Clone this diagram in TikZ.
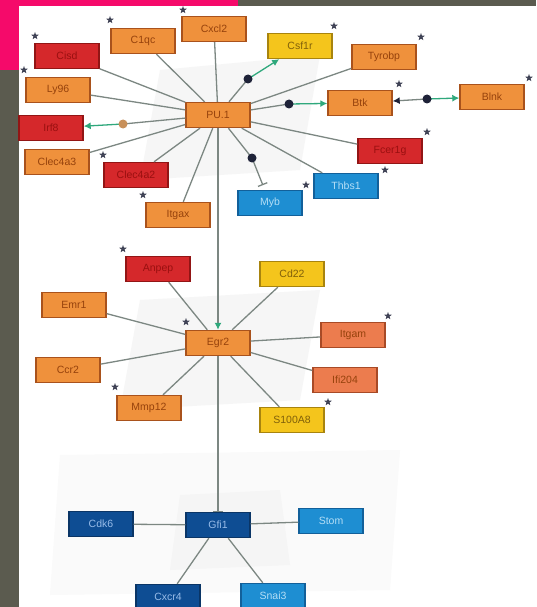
\documentclass[tikz,border=0pt]{standalone}
\usepackage{fontspec}
\setmainfont{Liberation Sans}
\usetikzlibrary{shapes.geometric,arrows.meta}
\definecolor{bgc}{HTML}{5B5B4F}
\definecolor{pinkc}{HTML}{F50A6A}
\definecolor{orf}{HTML}{EF913C}
\definecolor{ord}{HTML}{A9521C}
\definecolor{ort}{HTML}{96420C}
\definecolor{rdf}{HTML}{D5282B}
\definecolor{rdd}{HTML}{921515}
\definecolor{rdt}{HTML}{9A1010}
\definecolor{ylf}{HTML}{F4C51C}
\definecolor{yld}{HTML}{A8840E}
\definecolor{ylt}{HTML}{80600A}
\definecolor{sal}{HTML}{EC7C4E}
\definecolor{sald}{HTML}{A84A26}
\definecolor{lbf}{HTML}{1E8ED2}
\definecolor{lbd}{HTML}{12609A}
\definecolor{lbt}{HTML}{B4DEF6}
\definecolor{dbf}{HTML}{0E4D93}
\definecolor{dbd}{HTML}{0A3566}
\definecolor{dbt}{HTML}{98BCE8}
\definecolor{linkc}{HTML}{7C8782}
\definecolor{grn}{HTML}{2FA87C}
\definecolor{dotd}{HTML}{1E2238}
\definecolor{dott}{HTML}{C8905A}
\tikzset{
  gbox/.style={rectangle, minimum width=64pt, minimum height=25pt, inner sep=0pt, line width=1.4pt, font=\fontsize{10.5}{11}\selectfont},
  orb/.style={gbox, fill=orf, draw=ord, text=ort},
  rdb/.style={gbox, fill=rdf, draw=rdd, text=rdt},
  ylb/.style={gbox, fill=ylf, draw=yld, text=ylt},
  slb/.style={gbox, fill=sal, draw=sald, text=ort},
  lbb/.style={gbox, fill=lbf, draw=lbd, text=lbt},
  dbb/.style={gbox, fill=dbf, draw=dbd, text=dbt},
  link/.style={draw=linkc, line width=1.3pt},
  garrow/.style={draw=grn, line width=1.3pt, -{Latex[length=7pt,width=7pt]}},
  gtip/.style={draw=linkc, line width=1.3pt, -{Latex[length=7pt,width=7pt,color=grn]}},
  darrow/.style={draw=linkc, line width=1.3pt, -{Latex[length=7pt,width=7pt,color=dotd]}},
  tbar/.style={draw=linkc, line width=1.3pt, -{Bar[width=10pt,line width=1.3pt]}},
  ddot/.style={circle, fill=dotd, minimum size=9pt, inner sep=0pt},
  tdot/.style={circle, fill=dott, minimum size=9pt, inner sep=0pt},
  mstar/.style={star, star points=5, star point ratio=2.4, fill=dotd!85, minimum size=8pt, inner sep=0pt}
}
\begin{document}
\begin{tikzpicture}[x=1pt,y=-1pt]
\useasboundingbox (0,0) rectangle (536,607);
% background
\fill[bgc] (0,0) rectangle (536,607);
\fill[white] (19,6) rectangle (536,607);
\fill[pinkc] (0,0) rectangle (238,6);
\fill[pinkc] (0,0) rectangle (19,70);
% faint shading
\fill[gray!7] (160,70) -- (320,55) -- (300,170) -- (140,180) -- cycle;
\fill[gray!7] (140,300) -- (320,290) -- (300,400) -- (120,410) -- cycle;
\fill[gray!4] (60,455) -- (400,450) -- (390,590) -- (50,595) -- cycle;
\fill[gray!8] (180,495) -- (280,490) -- (290,565) -- (170,570) -- cycle;

% hubs
\node[orb] (PU) at (218,115) {PU.1};
\node[orb] (Egr2) at (218,343) {Egr2};
\node[dbb] (Gfi1) at (218,525) {Gfi1};

% PU.1 targets
\node[orb] (Cxcl2) at (214,29) {Cxcl2};
\node[orb] (C1qc) at (143,41) {C1qc};
\node[rdb] (Cisd) at (67,56) {Cisd};
\node[orb] (Ly96) at (58,90) {Ly96};
\node[rdb] (Irf8) at (51,128) {Irf8};
\node[orb] (Clec4a3) at (57,162) {Clec4a3};
\node[rdb] (Clec4a2) at (136,175) {Clec4a2};
\node[orb] (Itgax) at (178,215) {Itgax};
\node[ylb] (Csf1r) at (300,46) {Csf1r};
\node[orb] (Tyrobp) at (384,57) {Tyrobp};
\node[orb] (Btk) at (360,103) {Btk};
\node[orb] (Blnk) at (492,97) {Blnk};
\node[rdb] (Fcer1g) at (390,151) {Fcer1g};
\node[lbb] (Thbs1) at (346,186) {Thbs1};
\node[lbb] (Myb) at (270,203) {Myb};

% Egr2 targets
\node[rdb] (Anpep) at (158,269) {Anpep};
\node[ylb] (Cd22) at (292,274) {Cd22};
\node[orb] (Emr1) at (74,305) {Emr1};
\node[slb] (Itgam) at (353,335) {Itgam};
\node[orb] (Ccr2) at (68,370) {Ccr2};
\node[slb] (Ifi204) at (345,380) {Ifi204};
\node[orb] (Mmp12) at (149,408) {Mmp12};
\node[ylb] (S100A8) at (292,420) {S100A8};

% Gfi1 targets
\node[dbb] (Cdk6) at (101,524) {Cdk6};
\node[lbb] (Stom) at (331,521) {Stom};
\node[dbb] (Cxcr4) at (168,597) {Cxcr4};
\node[lbb] (Snai3) at (273,596) {Snai3};

% PU.1 plain links
\foreach \t in {Cxcl2,C1qc,Cisd,Ly96,Clec4a3,Clec4a2,Itgax,Tyrobp,Fcer1g,Thbs1}
  \draw[link] (PU) -- (\t);
% PU.1 special links
\coordinate (d1) at (123,124);
\coordinate (d2) at (248,79);
\coordinate (d3) at (289,104);
\coordinate (d4) at (427,99);
\coordinate (d5) at (252,158);
\draw[link] (PU) -- (d1);
\draw[garrow] (d1) -- (Irf8);
\draw[link] (PU) -- (d2);
\draw[garrow] (d2) -- (Csf1r);
\draw[link] (PU) -- (d3);
\draw[garrow] (d3) -- (Btk);
\draw[darrow] (d4) -- (Btk);
\draw[garrow] (d4) -- (Blnk);
\draw[link] (PU) -- (d5);
\draw[tbar, shorten >=5pt] (d5) -- (Myb);
\node[tdot] at (d1) {};
\node[ddot] at (d2) {};
\node[ddot] at (d3) {};
\node[ddot] at (d4) {};
\node[ddot] at (d5) {};
\draw[gtip] (PU) -- (Egr2);

% Egr2 links
\foreach \t in {Anpep,Cd22,Emr1,Itgam,Ccr2,Ifi204,Mmp12,S100A8}
  \draw[link] (Egr2) -- (\t);
\draw[tbar] (Egr2) -- (Gfi1);

% Gfi1 links
\foreach \t in {Cdk6,Stom,Cxcr4,Snai3}
  \draw[link] (Gfi1) -- (\t);

% stars
\foreach \p in {(183,10),(110,20),(35,36),(24,70),(103,155),(143,195),(334,26),(421,37),(399,84),(529,78),(427,132),(385,170),(306,185),(123,249),(186,322),(388,316),(115,387),(328,402)}
  \node[mstar] at \p {};
\end{tikzpicture}
\end{document}
